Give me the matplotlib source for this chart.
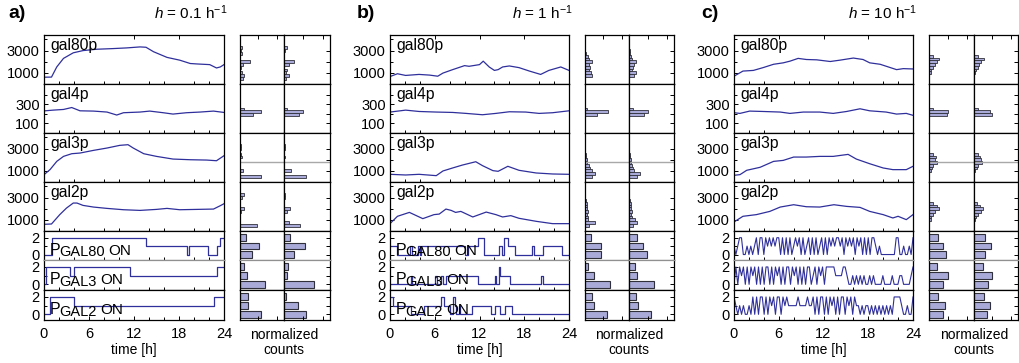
import numpy as np
import matplotlib
matplotlib.use('Agg')
import matplotlib.pyplot as plt
from matplotlib.ticker import MultipleLocator, FixedLocator, NullLocator
from matplotlib.transforms import blended_transform_factory, offset_copy

plt.rcParams['font.family'] = ['Liberation Sans', 'DejaVu Sans']
plt.rcParams['mathtext.fontset'] = 'custom'
plt.rcParams['mathtext.rm'] = 'Liberation Sans'
plt.rcParams['mathtext.it'] = 'Liberation Sans:italic'

# ---------------- data: protein traces (time [h], copies) ----------------
a_gal80p_t = [0, 1.0, 1.7, 2.6, 3.9, 5.2, 7.0, 9.2, 11.0, 12.8, 13.6, 14.6, 16.4, 18.1, 19.5, 20.4, 22.1, 23.0, 23.5, 24]
a_gal80p_v = [610, 620, 1530, 2300, 2800, 3000, 3120, 3180, 3240, 3330, 3300, 2900, 2390, 2140, 1840, 1800, 1740, 1440, 1530, 1740]
a_gal4p_t = [0, 1.2, 2.6, 3.7, 4.8, 6.6, 8.4, 9.7, 10.6, 12.8, 14.1, 15.9, 17.2, 19.0, 20.8, 22.6, 24]
a_gal4p_v = [230, 238, 245, 265, 231, 228, 218, 187, 211, 218, 228, 211, 197, 211, 218, 228, 214]
a_gal3p_t = [0, 0.8, 1.7, 2.6, 3.7, 4.8, 6.6, 8.4, 10.1, 11.2, 11.9, 13.3, 15.0, 17.2, 19.5, 21.7, 23.0, 24]
a_gal3p_v = [660, 1110, 1850, 2300, 2540, 2600, 2840, 3050, 3290, 3350, 3050, 2540, 2300, 2060, 2000, 1970, 1910, 2360]
a_gal2p_t = [0, 1.0, 2.1, 3.0, 3.9, 4.4, 5.2, 6.6, 8.4, 10.6, 12.8, 15.0, 16.4, 18.1, 20.4, 22.6, 23.5, 24]
a_gal2p_v = [600, 630, 1470, 2060, 2510, 2510, 2300, 2150, 2030, 1910, 1850, 1940, 2030, 1910, 1940, 1970, 2270, 2450]

b_gal80p_t = [0, 1.0, 2.1, 3.9, 5.3, 6.4, 7.1, 8.4, 10.0, 10.6, 12.0, 12.5, 13.3, 14.0, 14.5, 15.1, 16.0, 17.3, 18.7, 20.2, 21.3, 22.9, 24]
b_gal80p_v = [670, 920, 770, 860, 800, 700, 980, 1290, 1650, 1590, 1740, 2050, 1530, 1220, 1290, 1530, 1620, 1470, 1160, 860, 1220, 1530, 1220]
b_gal4p_t = [0, 2.1, 3.9, 6.2, 8.4, 10.2, 12.4, 14.2, 16.0, 18.2, 20.0, 21.8, 24]
b_gal4p_v = [218, 238, 224, 218, 214, 204, 190, 204, 221, 218, 204, 211, 231]
b_gal3p_t = [0, 2.1, 3.9, 6.2, 7.1, 8.4, 9.7, 11.5, 12.4, 13.8, 14.5, 15.8, 17.3, 19.6, 21.8, 24]
b_gal3p_v = [690, 630, 690, 570, 990, 1260, 1520, 1820, 1470, 1020, 960, 1410, 1050, 810, 720, 690]
b_gal2p_t = [0, 1.0, 2.6, 4.4, 5.9, 6.6, 7.5, 8.2, 8.8, 9.5, 11.1, 12.9, 14.2, 15.1, 16.2, 17.3, 19.6, 21.8, 24]
b_gal2p_v = [660, 1320, 1670, 1110, 1470, 1520, 1970, 1850, 1670, 1760, 1260, 1700, 1470, 1260, 1380, 1140, 870, 660, 660]

c_gal80p_t = [0, 1.2, 2.6, 3.9, 5.3, 6.6, 7.5, 8.6, 9.7, 11.1, 12.9, 14.2, 16.0, 17.3, 18.2, 19.6, 20.7, 21.8, 22.7, 24]
c_gal80p_v = [700, 1160, 1220, 1470, 1770, 1900, 2050, 2300, 2200, 2170, 2020, 2140, 2330, 2200, 1900, 1770, 1530, 1290, 1380, 1350]
c_gal4p_t = [0, 0.8, 2.1, 3.9, 6.2, 7.5, 9.3, 11.5, 13.3, 15.1, 16.9, 18.2, 20.4, 21.8, 23.1, 24]
c_gal4p_v = [211, 204, 228, 224, 218, 204, 218, 218, 204, 224, 252, 231, 218, 197, 204, 184]
c_gal3p_t = [0, 0.8, 1.7, 3.5, 5.3, 6.6, 8.0, 9.7, 11.5, 13.3, 15.3, 16.4, 18.2, 20.0, 21.3, 23.1, 24]
c_gal3p_v = [600, 660, 1050, 1320, 1850, 1940, 2240, 2240, 2300, 2300, 2480, 2060, 1640, 1260, 1110, 1110, 1410]
c_gal2p_t = [0, 1.2, 3.0, 4.8, 6.2, 8.0, 9.7, 11.5, 13.4, 15.1, 16.9, 18.2, 20.0, 21.3, 22.0, 23.1, 24]
c_gal2p_v = [810, 1320, 1470, 1760, 2150, 2360, 2180, 2150, 2360, 2210, 2120, 1760, 1470, 1170, 1320, 1020, 1470]

# ---------------- data: promoter states (0, 1, 2 ON) ----------------
a_p80_t = [0, 1.0, 13.6, 19.0, 19.3, 21.9, 23.0, 23.5, 24]
a_p80_v = [0, 2, 1, 0, 1, 0, 1, 2, 2]
a_p3_t = [0, 0.2, 3.5, 4.0, 11.4, 23.0, 24]
a_p3_v = [0, 2, 1, 2, 1, 2, 2]
a_p2_t = [0, 0.8, 4.0, 22.7, 24]
a_p2_v = [0, 2, 1, 2, 2]

b_p80_t = [0, 0.9, 2.7, 2.9, 3.7, 4.0, 4.2, 10.0, 10.4, 11.8, 12.6, 14.6, 15.0, 15.3, 15.8, 16.7, 19.1, 19.3, 20.5, 23.0, 24]
b_p80_v = [1, 0, 1, 0, 1, 0, 1, 0, 1, 2, 0, 1, 0, 2, 1, 0, 1, 0, 1, 0, 0]
b_p3_t = [0, 2.8, 2.95, 6.1, 6.25, 6.9, 7.05, 7.5, 11.8, 14.1, 14.2, 14.6, 14.8, 16.1, 20.3, 20.45, 24]
b_p3_v = [0, 1, 0, 1, 0, 1, 0, 1, 0, 1, 0, 2, 1, 0, 1, 0, 0]
b_p2_t = [0, 0.35, 2.8, 4.5, 6.9, 7.2, 8.0, 8.4, 8.7, 8.9, 9.3, 9.4, 11.0, 13.6, 14.1, 14.7, 15.4, 16.3, 24]
b_p2_v = [2, 1, 0, 1, 2, 1, 0, 2, 1, 0, 1, 0, 1, 0, 1, 0, 1, 0, 0]

# h = 10: fast switching, sampled every 0.25 h
c_p80_v = [1, 0, 1, 2, 2, 0, 0, 1, 0, 1, 0, 1,
           2, 0, 2, 2, 0, 2, 1, 2, 1, 2, 1, 2,
           2, 0, 2, 0, 2, 0, 2, 0, 1, 2, 1,
           2, 0, 2, 0, 1, 2, 0, 2, 0, 2, 0, 1, 2, 0, 2, 0,
           2, 1, 2, 1, 2, 2, 1, 2, 0, 2, 1, 2, 1, 2, 0, 2, 1, 2,
           0, 2, 0, 2, 0, 2, 2, 1, 0, 1, 0, 0,
           0, 0, 0, 0, 0, 0, 2, 2, 0, 0, 1, 0, 0, 1, 0, 2]
c_p3_v = [0, 2, 0, 2, 1, 2, 0, 2, 0, 2, 1, 2,
          0, 2, 0, 2, 0, 2, 2, 0, 2, 0, 2, 1,
          2, 0, 2, 0, 2, 2, 0, 2, 1, 2, 0, 2,
          0, 2, 0, 2, 2, 0, 1, 2, 0, 2, 1, 2, 0, 2, 2,
          2, 2, 2, 1, 1, 1, 1, 2, 2, 1, 0, 0, 1,
          0, 1, 0, 1, 0, 1, 0, 0, 1, 0, 1, 0,
          0, 0, 0, 1, 0, 0, 0, 0, 1, 0,
          0, 0, 1, 1, 0, 0, 0, 0, 1, 2]
c_p2_v = [2, 1, 0, 1, 0, 1, 0, 0, 1, 0,
          2, 0, 2, 0, 2, 2, 0, 2, 0, 2, 1, 2, 0, 2, 2, 0,
          2, 1, 2, 1,
          1, 1, 1, 1, 2, 1, 1, 1, 1, 2, 1, 1,
          2, 0, 2, 0, 2, 2, 0, 2, 0, 2, 1, 2, 0, 2, 0, 2, 2, 0, 2, 1, 2, 0, 2, 1,
          1, 0, 1, 0, 1, 1, 0, 1, 0, 1, 0, 1, 0, 1, 0, 1, 0, 1, 0,
          2, 2, 2, 2, 1, 0, 0, 1, 0, 0, 2]

# ---------------- data: histograms {bin centre: normalized count} ----------------
a_h_gal80p = [{3250: 0.06, 3000: 0.04, 2750: 0.05, 2000: 0.27, 1750: 0.09, 1500: 0.04, 1000: 0.05, 750: 0.12, 500: 0.07},
              {3250: 0.07, 3000: 0.03, 2000: 0.27, 1750: 0.12, 1250: 0.09, 1000: 0.05, 750: 0.12, 500: 0.05}]
a_h_gal4p = [{250: 0.10, 220: 0.57, 190: 0.34}, {250: 0.09, 220: 0.50, 190: 0.39}]
a_h_gal3p = [{3250: 0.04, 3000: 0.03, 2500: 0.02, 2250: 0.06, 1000: 0.07, 500: 0.56},
             {3250: 0.02, 3000: 0.02, 2250: 0.02, 1000: 0.18, 500: 0.56}]
a_h_gal2p = [{3250: 0.11, 3000: 0.06, 2000: 0.11, 1750: 0.04, 500: 0.45},
             {3250: 0.02, 3000: 0.02, 2000: 0.16, 1750: 0.07, 750: 0.12, 500: 0.42}]
a_h_p80 = [[0.32, 0.52, 0.16], [0.27, 0.54, 0.16]]
a_h_p3 = [[0.67, 0.20, 0.12], [0.78, 0.09, 0.11]]
a_h_p2 = [[0.57, 0.21, 0.22], [0.57, 0.36, 0.05]]

b_h_gal80p = [{2750: 0.04, 2500: 0.09, 2250: 0.10, 2000: 0.18, 1750: 0.10, 1500: 0.14, 1250: 0.10, 1000: 0.15, 750: 0.18},
              {3000: 0.02, 2750: 0.03, 2500: 0.06, 2250: 0.08, 2000: 0.18, 1750: 0.12, 1500: 0.10, 1250: 0.09, 1000: 0.18, 750: 0.12}]
b_h_gal4p = [{250: 0.06, 220: 0.63, 190: 0.32}, {250: 0.10, 220: 0.51, 190: 0.40}]
b_h_gal3p = [{2500: 0.02, 2250: 0.03, 2000: 0.05, 1750: 0.06, 1500: 0.10, 1250: 0.14, 1000: 0.18, 750: 0.27, 500: 0.18},
             {2500: 0.02, 2250: 0.03, 2000: 0.04, 1750: 0.05, 1500: 0.08, 1250: 0.11, 1000: 0.13, 750: 0.29, 500: 0.20}]
b_h_gal2p = [{2750: 0.03, 2500: 0.05, 2250: 0.05, 2000: 0.06, 1750: 0.07, 1500: 0.06, 1250: 0.08, 1000: 0.09, 750: 0.27, 500: 0.12},
             {2750: 0.03, 2500: 0.04, 2250: 0.06, 2000: 0.05, 1750: 0.07, 1500: 0.06, 1250: 0.08, 1000: 0.15, 750: 0.20, 500: 0.11}]
b_h_p80 = [[0.42, 0.42, 0.15], [0.47, 0.36, 0.20]]
b_h_p3 = [[0.68, 0.24, 0.09], [0.65, 0.20, 0.16]]
b_h_p2 = [[0.59, 0.23, 0.18], [0.58, 0.24, 0.18]]

c_h_gal80p = [{2500: 0.11, 2250: 0.27, 2000: 0.20, 1750: 0.15, 1500: 0.10, 1250: 0.06, 1000: 0.04},
              {2500: 0.12, 2250: 0.27, 2000: 0.20, 1750: 0.14, 1500: 0.10, 1250: 0.05, 1000: 0.03}]
c_h_gal4p = [{250: 0.11, 220: 0.51, 190: 0.47}, {250: 0.12, 220: 0.43, 190: 0.50}]
c_h_gal3p = [{2500: 0.11, 2250: 0.18, 2000: 0.15, 1750: 0.22, 1500: 0.11, 1250: 0.09, 1000: 0.04},
             {2500: 0.10, 2250: 0.17, 2000: 0.20, 1750: 0.22, 1500: 0.10, 1250: 0.07, 1000: 0.04}]
c_h_gal2p = [{2500: 0.11, 2250: 0.20, 2000: 0.27, 1750: 0.15, 1500: 0.11, 1250: 0.06, 1000: 0.04},
             {2500: 0.08, 2250: 0.17, 2000: 0.25, 1750: 0.20, 1500: 0.12, 1250: 0.06, 1000: 0.04}]
c_h_p80 = [[0.44, 0.36, 0.24], [0.30, 0.45, 0.30]]
c_h_p3 = [[0.36, 0.50, 0.20], [0.39, 0.48, 0.23]]
c_h_p2 = [[0.38, 0.42, 0.24], [0.36, 0.43, 0.28]]

gal3_threshold = 1800
panel_titles = ['$h$ = 0.1 h$^{-1}$', '$h$ = 1 h$^{-1}$', '$h$ = 10 h$^{-1}$']
panel_letters = ['a)', 'b)', 'c)']
protein_names = ['gal80p', 'gal4p', 'gal3p', 'gal2p']
promoter_subs = ['GAL80', 'GAL3', 'GAL2']
levels = [0, 1, 2]

panels = [
    dict(prot=[(a_gal80p_t, a_gal80p_v), (a_gal4p_t, a_gal4p_v), (a_gal3p_t, a_gal3p_v), (a_gal2p_t, a_gal2p_v)],
         prom=[(a_p80_t, a_p80_v), (a_p3_t, a_p3_v), (a_p2_t, a_p2_v)],
         hprot=[a_h_gal80p, a_h_gal4p, a_h_gal3p, a_h_gal2p], hprom=[a_h_p80, a_h_p3, a_h_p2]),
    dict(prot=[(b_gal80p_t, b_gal80p_v), (b_gal4p_t, b_gal4p_v), (b_gal3p_t, b_gal3p_v), (b_gal2p_t, b_gal2p_v)],
         prom=[(b_p80_t, b_p80_v), (b_p3_t, b_p3_v), (b_p2_t, b_p2_v)],
         hprot=[b_h_gal80p, b_h_gal4p, b_h_gal3p, b_h_gal2p], hprom=[b_h_p80, b_h_p3, b_h_p2]),
    dict(prot=[(c_gal80p_t, c_gal80p_v), (c_gal4p_t, c_gal4p_v), (c_gal3p_t, c_gal3p_v), (c_gal2p_t, c_gal2p_v)],
         prom=[(None, c_p80_v), (None, c_p3_v), (None, c_p2_v)],
         hprot=[c_h_gal80p, c_h_gal4p, c_h_gal3p, c_h_gal2p], hprom=[c_h_p80, c_h_p3, c_h_p2]),
]

# ---------------- layout (pixels) ----------------
W, H = 1019, 363
fig = plt.figure(figsize=(W / 100, H / 100), dpi=100)
renderer = fig.canvas.get_renderer()
row_edges = [35, 84, 133, 182, 231, 260, 290, 320]
panel_x = [(44, 224, 240, 284, 330), (390, 569, 585, 629, 674), (734, 913, 929, 974, 1018)]

LINE = '#2f2f9c'
FILL = '#a9aad8'
EDGE = '#30303a'
FS = 10.5


def add_ax(x0, x1, y0, y1):
    return fig.add_axes([x0 / W, 1 - y1 / H, (x1 - x0) / W, (y1 - y0) / H])


def style(ax):
    for s in ax.spines.values():
        s.set_linewidth(0.9)
    ax.tick_params(which='both', direction='in', labelsize=FS, width=0.7, pad=3)
    ax.tick_params(which='major', length=3)
    ax.tick_params(which='minor', length=2)


def promoter_label(ax, sub):
    # "P" + slightly lowered "GAL80" + "ON", as in the original figure
    trans = blended_transform_factory(ax.transAxes, ax.transData)
    t1 = ax.text(0.03, 0.0, 'P', transform=trans, fontsize=11.5, va='baseline')
    w1 = t1.get_window_extent(renderer).width
    t2 = ax.text(0.03, 0.0, sub, fontsize=10.5, va='baseline',
                 transform=offset_copy(trans, fig=fig, x=w1 - 0.5, y=-1.5, units='dots'))
    w2 = t2.get_window_extent(renderer).width
    ax.text(0.03, 0.0, 'ON', fontsize=11, va='baseline',
            transform=offset_copy(trans, fig=fig, x=w1 + w2 + 3, y=0, units='dots'))


for p, (pan, px) in enumerate(zip(panels, panel_x)):
    tx0, tx1, hx0, hx1, hx2 = px
    for r in range(7):
        y0, y1 = row_edges[r], row_edges[r + 1]
        ax = add_ax(tx0, tx1, y0, y1)
        h1 = add_ax(hx0, hx1, y0, y1)
        h2 = add_ax(hx1, hx2, y0, y1)
        for a in (ax, h1, h2):
            style(a)
            a.tick_params(top=(r == 0), bottom=(r == 6), labelbottom=(r == 6),
                          left=False, right=False, labelleft=False)
        ax.tick_params(left=True, labelleft=True)
        h2.tick_params(right=True)

        if r < 4:
            t, v = pan['prot'][r]
            ax.plot(t, v, color=LINE, lw=0.9)
            if r == 1:
                ylim, binw, major, minor = (0, 510), 30, [100, 300], [200, 400]
                hticks = [100, 200, 300, 400]
            else:
                ylim, binw, major, minor = (0, 4400), 250, [1000, 3000], [2000, 4000]
                hticks = [1000, 2000, 3000]
            ax.set_yticks(major)
            ax.yaxis.set_minor_locator(FixedLocator(minor))
            ax.text(0.035, 0.93, protein_names[r], transform=ax.transAxes,
                    ha='left', va='top', fontsize=FS + 0.8)
            for hax, hd in zip((h1, h2), pan['hprot'][r]):
                hax.barh(list(hd.keys()), list(hd.values()), height=binw,
                         color=FILL, edgecolor=EDGE, lw=0.6)
            h2.yaxis.set_major_locator(FixedLocator(hticks))
            if r == 2:
                for hax in (h1, h2):
                    hax.axhline(gal3_threshold, color='#a8a8a8', lw=1.0)
        else:
            k = r - 4
            t, v = pan['prom'][k]
            if t is None:
                t = np.linspace(0, 24, len(v))
                ax.plot(t, v, color=LINE, lw=0.8)
            else:
                ax.plot(t, v, color=LINE, lw=0.9, drawstyle='steps-post')
            ylim = (-0.65, 2.8)
            ax.set_yticks([0, 2])
            ax.yaxis.set_minor_locator(FixedLocator([1]))
            if p < 2:
                promoter_label(ax, promoter_subs[k])
            for hax, hv in zip((h1, h2), pan['hprom'][k]):
                hax.barh(levels, hv, height=0.8, color=FILL, edgecolor=EDGE, lw=0.8)
            h2.yaxis.set_major_locator(FixedLocator(levels))
        ax.set_ylim(*ylim)
        h1.set_ylim(*ylim)
        h2.set_ylim(*ylim)
        h1.yaxis.set_major_locator(NullLocator())
        h1.yaxis.set_minor_locator(NullLocator())
        h2.yaxis.set_minor_locator(NullLocator())
        h2.tick_params(labelright=False)

        ax.set_xlim(0, 24)
        ax.xaxis.set_major_locator(MultipleLocator(6))
        ax.xaxis.set_minor_locator(MultipleLocator(2))
        for hax in (h1, h2):
            hax.set_xlim(0, 1.19)
            hax.set_xticks([0.5, 1.0])
            hax.tick_params(labelbottom=False)
        if r == 6:
            ax.tick_params(axis='x', labelsize=FS, pad=5)
        # the border between the PGAL80 and PGAL3 rows is lighter
        if r == 4:
            for a in (ax, h1, h2):
                a.spines['bottom'].set_color('#909090')
        if r == 5:
            for a in (ax, h1, h2):
                a.spines['top'].set_color('#909090')

    fig.text((tx0 + tx1) / 2 / W, 1 - 350 / H, 'time [h]', ha='center', va='center', fontsize=10)
    fig.text(hx1 / W, 1 - 335 / H, 'normalized', ha='center', va='center', fontsize=10)
    fig.text(hx1 / W, 1 - 350 / H, 'counts', ha='center', va='center', fontsize=10)
    fig.text((tx1 + 4) / W, 1 - 13 / H, panel_titles[p], ha='right', va='center', fontsize=11)
    fig.text((tx0 - 36 if p == 0 else tx0 - 33) / W, 1 - 13 / H, panel_letters[p],
             ha='left', va='center', fontsize=14, fontweight='bold')

fig.savefig('out.png', dpi=100)
